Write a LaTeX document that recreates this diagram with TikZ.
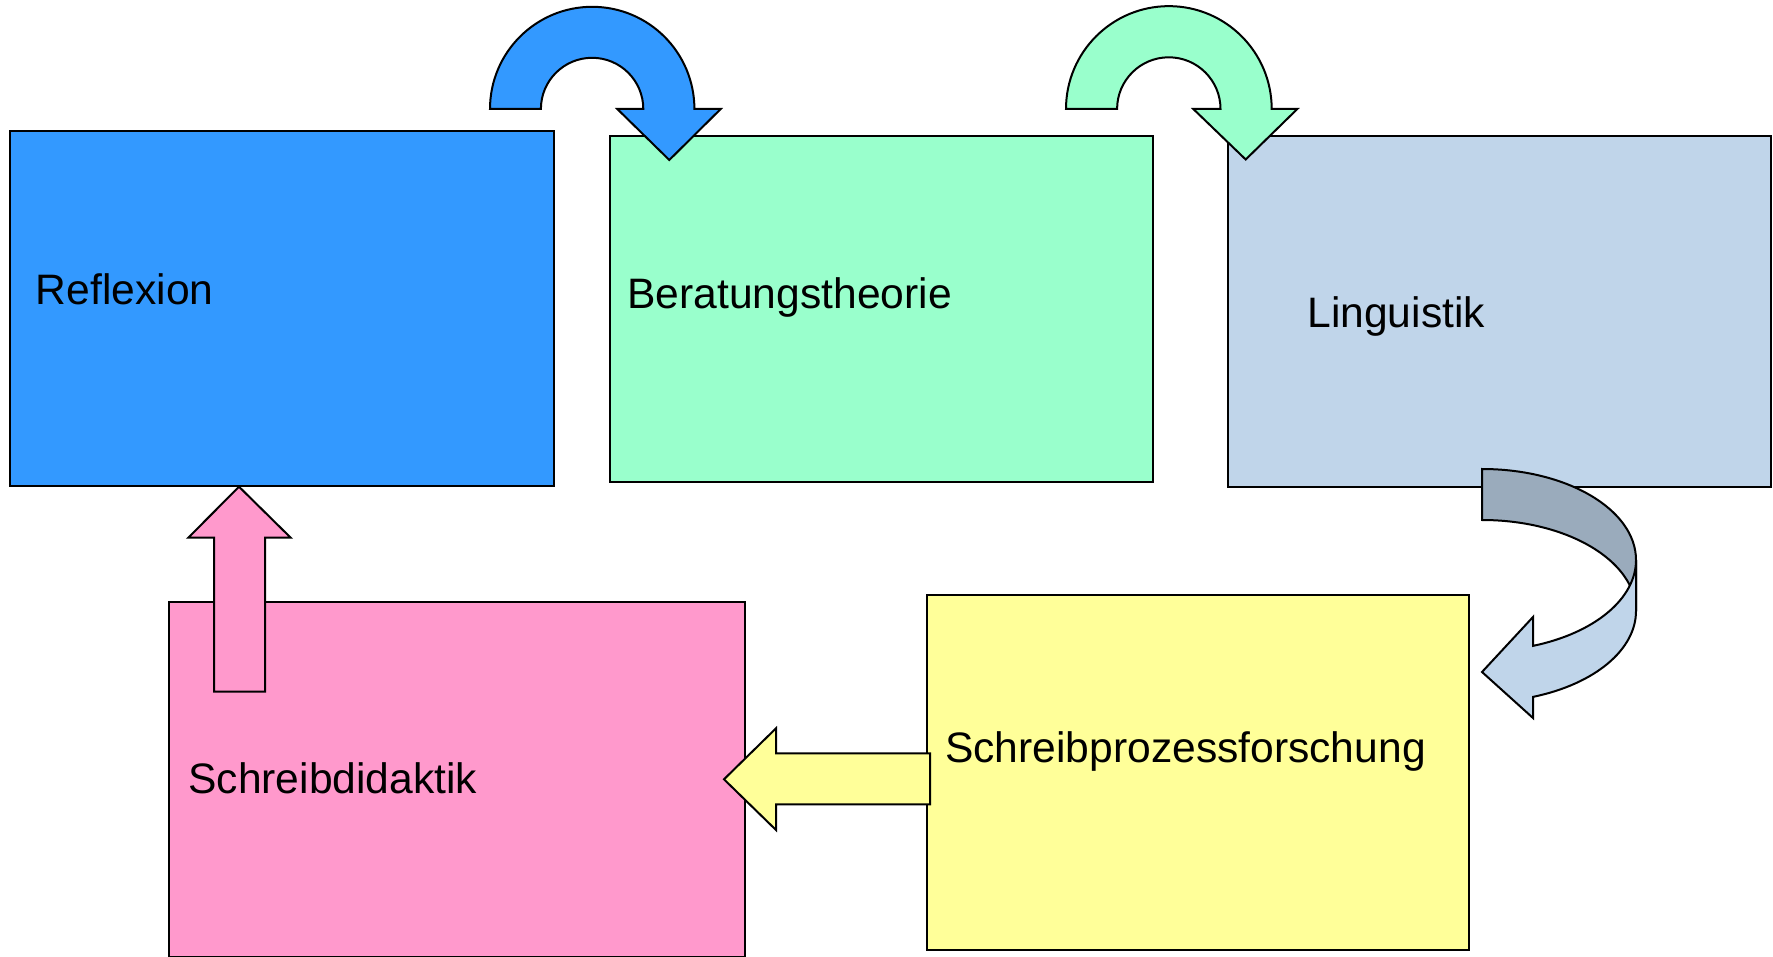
\documentclass[tikz,border=0pt]{standalone}
\usepackage{fontspec}
\setmainfont{Liberation Sans}
\definecolor{cblue}{HTML}{3399FF}
\definecolor{cgreen}{HTML}{99FFCC}
\definecolor{cgrey}{HTML}{C0D5EA}
\definecolor{cdark}{HTML}{9AABBC}
\definecolor{cyellow}{HTML}{FFFF99}
\definecolor{cpink}{HTML}{FF99CC}
\begin{document}
\begin{tikzpicture}[x=0.5pt,y=-0.5pt,
  box/.style={draw=black,line width=1pt,anchor=north west,inner sep=0pt,outer sep=0pt},
  lbl/.style={anchor=base west,inner sep=0pt,font=\fontsize{21.3pt}{25pt}\selectfont},
  blockarrow/.style={draw=black,line width=1pt,line join=miter}]
\useasboundingbox (0,0) rectangle (1773,957);
% boxes
\node[box,fill=cblue,minimum width=272pt,minimum height=177.5pt] (refl) at (10,131) {};
\node[box,fill=cgreen,minimum width=271.9pt,minimum height=172.9pt] (bera) at (609.5,136) {};
\node[box,fill=cgrey,minimum width=271.5pt,minimum height=175.5pt] (ling) at (1228,136) {};
\node[box,fill=cyellow,minimum width=271pt,minimum height=177.5pt] (proz) at (927,595) {};
\node[box,fill=cpink,minimum width=288pt,minimum height=177.5pt] (dida) at (168.5,601.7) {};
% labels
\node[lbl] (treflexion) at (35.5,304.3) {Reflexion};
\node[lbl] (tberatung) at (627,308.3) {Beratungstheorie};
\node[lbl] (tling) at (1307,327.3) {Linguistik};
\node[lbl] (tproz) at (944.7,762.7) {Schreibprozessforschung};
\node[lbl] (tdida) at (188,793.3) {Schreibdidaktik};
% blue U-turn arrow
\draw[blockarrow,fill=cblue] (490,109) arc[start angle=180,end angle=360,radius=102.2]
  -- (720.7,109) -- (669.3,160) -- (617.3,109) -- (643.3,109)
  arc[start angle=0,end angle=-180,radius=51.2] -- cycle;
% green U-turn arrow
\draw[blockarrow,fill=cgreen] (1066,109) arc[start angle=180,end angle=360,radius=102.85]
  -- (1297.3,109) -- (1245.7,159.5) -- (1193.3,109) -- (1220.5,109)
  arc[start angle=0,end angle=-180,radius=51.7] -- cycle;
% curved ribbon arrow (back part)
\draw[blockarrow,fill=cdark] (1482,469) arc[start angle=-90,end angle=0,x radius=154,y radius=91]
  -- (1636,611) arc[start angle=0,end angle=-90,x radius=154,y radius=91] -- cycle;
% curved ribbon arrow (front part)
\draw[blockarrow,fill=cgrey] (1636,560) arc[start angle=0,end angle=70.66,x radius=154,y radius=91]
  -- (1533,617) -- (1482,672) -- (1533,718) -- (1533,696.9)
  arc[start angle=70.66,end angle=0,x radius=154,y radius=91] -- cycle;
% yellow left arrow
\draw[blockarrow,fill=cyellow] (930,753.3) -- (776,753.3) -- (776,728.3) -- (724,779.3)
  -- (776,830) -- (776,804.3) -- (930,804.3) -- cycle;
% pink up arrow
\draw[blockarrow,fill=cpink] (214,691.7) -- (214,537.7) -- (188.3,537.7) -- (239,486.7)
  -- (290.7,537.7) -- (265,537.7) -- (265,691.7) -- cycle;
\end{tikzpicture}
\end{document}
